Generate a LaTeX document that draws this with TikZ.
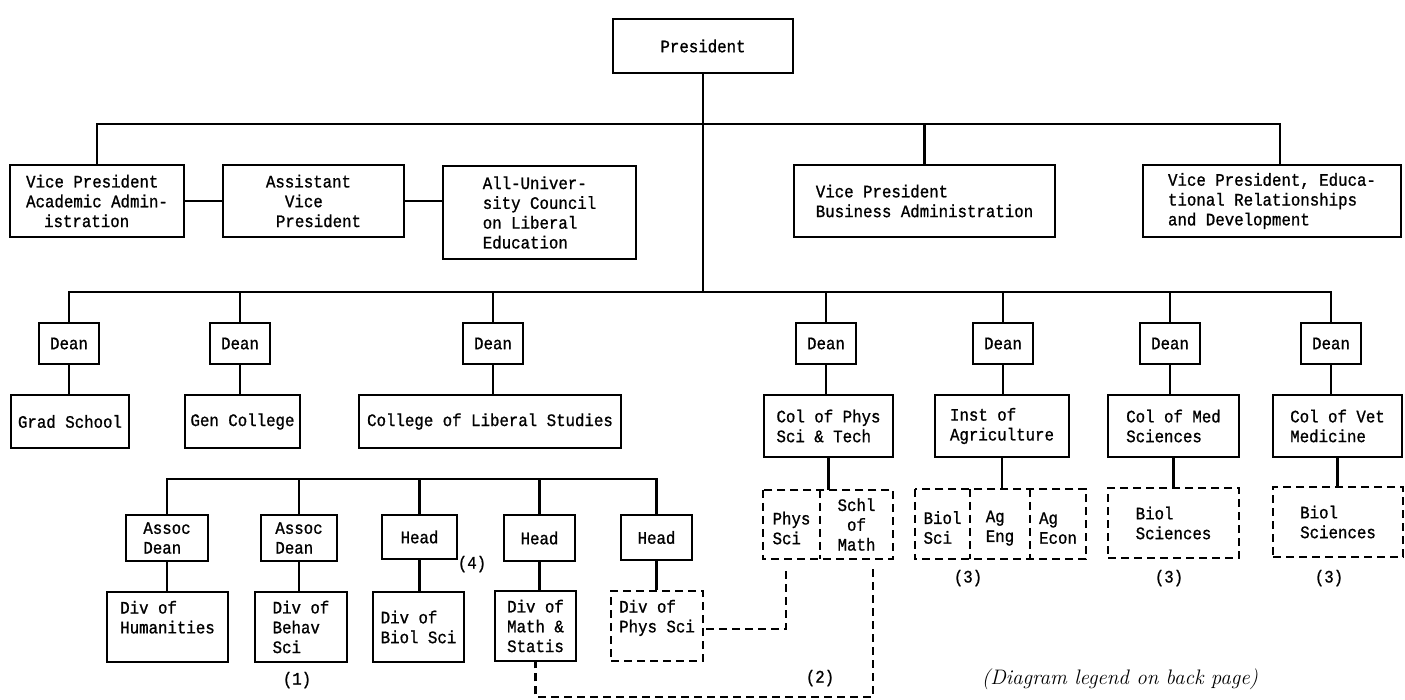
\documentclass[tikz,border=0pt]{standalone}
\usepackage{fontspec}
\setmonofont{Liberation Mono}[FakeStretch=0.9,FakeBold=1]
\usetikzlibrary{calc}
\newcommand\mybox[7]{%
  \pgfmathsetmacro\bxw{#3-#2}\pgfmathsetmacro\bxh{#5-#4}%
  \pgfmathsetmacro\bxx{(#2+#3)/2}\pgfmathsetmacro\bxy{(#4+#5)/2}%
  \node[#6,minimum width=\bxw pt,minimum height=\bxh pt] (#1) at (\bxx,\bxy) {#7};}
\begin{document}
\begin{tikzpicture}[x=1pt,y=-1pt,
  txt/.style={font=\ttfamily\fontsize{17.5}{19.8}\selectfont,inner sep=0pt},
  box/.style={txt,draw,line width=2.2pt,align=left},
  cbox/.style={box,align=center},
  dbox/.style={box,dash pattern=on 8pt off 5pt},
  ibox/.style={txt,align=left},
  ln/.style={line width=2.2pt},
  dln/.style={line width=2.2pt,dash pattern=on 8pt off 5pt}]
\useasboundingbox (0,0) rectangle (1405,699);
% top level
\mybox{pres}{613}{793}{19}{73}{cbox}{President}
\mybox{vpa}{10}{184}{165}{237}{box}{Vice President\\Academic Admin-\\\hspace*{18pt}istration}
\mybox{avp}{223}{404}{165}{237}{box}{Assistant\\\hspace*{19pt}Vice\\\hspace*{10pt}President}
\mybox{auc}{443}{636}{166}{259}{box}{All-Univer-\\sity Council\\on Liberal\\Education}
\mybox{vpb}{794}{1055}{165}{237}{box}{Vice President\\Business Administration}
\mybox{vpe}{1143}{1401}{165}{237}{box}{Vice President, Educa-\\tional Relationships\\and Development}
\coordinate (tr) at (1280,124);
\coordinate (dl) at (69,292);
\draw[ln] (pres.south) -- (pres.south |- dl);
\draw[ln] (vpa.north) |- (tr) -- (tr |- vpe.north);
\draw[ln] (vpb.north) -- (vpb.north |- tr);
\draw[ln] (vpa.east) -- (avp.west);
\draw[ln] (avp.east) -- (avp.east -| auc.west);
% deans
\mybox{d1}{39}{99}{323}{364}{cbox}{Dean}
\mybox{d2}{210}{270}{323}{364}{cbox}{Dean}
\mybox{d3}{463}{523}{323}{364}{cbox}{Dean}
\mybox{d4}{796}{856}{323}{364}{cbox}{Dean}
\mybox{d5}{973}{1033}{323}{364}{cbox}{Dean}
\mybox{d6}{1140}{1200}{323}{364}{cbox}{Dean}
\mybox{d7}{1301}{1361}{323}{364}{cbox}{Dean}
\draw[ln] (d1.north) |- (d7.north |- dl) -- (d7.north);
\foreach \d in {d2,d3,d4,d5,d6}{\draw[ln] (\d.north) -- (\d.north |- dl);}
% colleges
\mybox{gs}{11}{129}{395}{448}{cbox}{Grad School}
\mybox{gc}{185}{300}{395}{448}{cbox}{Gen College}
\mybox{cls}{359}{621}{395}{448}{cbox}{College of Liberal Studies}
\mybox{cps}{764}{893}{395}{457}{box}{Col of Phys\\Sci \& Tech}
\mybox{ia}{935}{1069}{395}{457}{box}{Inst of\\Agriculture}
\mybox{cms}{1108}{1239}{395}{457}{box}{Col of Med\\Sciences}
\mybox{cvm}{1273}{1402}{395}{457}{box}{Col of Vet\\Medicine}
\draw[ln] (d1.south) -- (d1.south |- gs.north);
\draw[ln] (d2.south) -- (d2.south |- gc.north);
\draw[ln] (d3.south) -- (d3.south |- cls.north);
\draw[ln] (d4.south) -- (d4.south |- cps.north);
\draw[ln] (d5.south) -- (d5.south |- ia.north);
\draw[ln] (d6.south) -- (d6.south |- cms.north);
\draw[ln] (d7.south) -- (d7.south |- cvm.north);
% dashed units
\mybox{ps}{763}{820}{490}{559}{ibox}{~\\Phys\\Sci}
\mybox{sm}{820}{893}{490}{559}{ibox,align=center}{Schl\\of\\Math}
\draw[dln] (ps.north west) rectangle (sm.south east);
\draw[dln] (ps.north east) -- (ps.south east);
\mybox{bs}{915}{970}{489}{559}{ibox}{~\\Biol\\Sci}
\mybox{ae}{970}{1030}{489}{559}{ibox}{~\\Ag\\Eng}
\mybox{aec}{1030}{1086}{489}{559}{ibox}{~\\Ag\\Econ}
\draw[dln] (bs.north west) rectangle (aec.south east);
\draw[dln] (bs.north east) -- (bs.south east);
\draw[dln] (ae.north east) -- (ae.south east);
\mybox{bsm}{1108}{1239}{488}{558}{dbox}{Biol\\Sciences}
\mybox{bsv}{1273}{1403}{487}{557}{dbox}{Biol\\Sciences}
\draw[ln] (cps.south) -- (cps.south |- sm.north);
\draw[ln] (ia.south) -- (ia.south |- ae.north);
\draw[ln] (cms.south) -- (cms.south |- bsm.north);
\draw[ln] (cvm.south) -- (cvm.south |- bsv.north);
% liberal studies subunits
\coordinate (sl) at (167,479);
\mybox{ad1}{126}{208}{515}{561}{box}{Assoc\\Dean}
\mybox{ad2}{261}{337}{515}{561}{box}{Assoc\\Dean}
\mybox{h1}{382}{457}{515}{559}{cbox}{Head}
\mybox{h2}{504}{575}{515}{561}{cbox}{Head}
\mybox{h3}{621}{692}{515}{560}{cbox}{Head}
\mybox{divh}{107}{228}{592}{662}{box}{Div of\\Humanities\\~}
\mybox{divb}{255}{347}{592}{662}{box}{Div of\\Behav\\Sci}
\mybox{divbio}{373}{464}{592}{662}{box}{Div of\\Biol Sci}
\mybox{divm}{495}{576}{591}{661}{box}{Div of\\Math \&\\Statis}
\mybox{divp}{611}{703}{591}{661}{dbox}{Div of\\Phys Sci\\~}
\draw[ln] (ad1.north) |- (h3.north |- sl) -- (h3.north);
\foreach \h in {ad2,h1,h2}{\draw[ln] (\h.north) -- (\h.north |- sl);}
\draw[ln] (ad1.south) -- (ad1.south |- divh.north);
\draw[ln] (ad2.south) -- (ad2.south |- divb.north);
\draw[ln] (h1.south) -- (h1.south |- divbio.north);
\draw[ln] (h2.south) -- (h2.south |- divm.north);
\draw[ln] (h3.south) -- (h3.south |- divp.north);
% dashed cross links
\coordinate (mb) at (873,697);
\coordinate (pj) at (786,629);
\draw[dln] ([xshift=-5.5pt,yshift=-12pt]ps.south) -- (pj) -- (pj -| divp.east);
\draw[dln] ([xshift=16.5pt,yshift=-10pt]sm.south) -- (mb) -| (divm.south);
% notes
\node[txt] (n1) at (297,680) {(1)};
\node[txt] (n2) at (820,678) {(2)};
\node[txt] (n3a) at (968,578) {(3)};
\node[txt] (n3b) at (1169,578) {(3)};
\node[txt] (n3c) at (1329,578) {(3)};
\node[txt] (n4) at (472,564) {(4)};
\node[font=\fontsize{21}{24}\selectfont\itshape,inner sep=0pt] (leg) at (1120,679) {(Diagram legend on back page)};
\end{tikzpicture}
\end{document}
